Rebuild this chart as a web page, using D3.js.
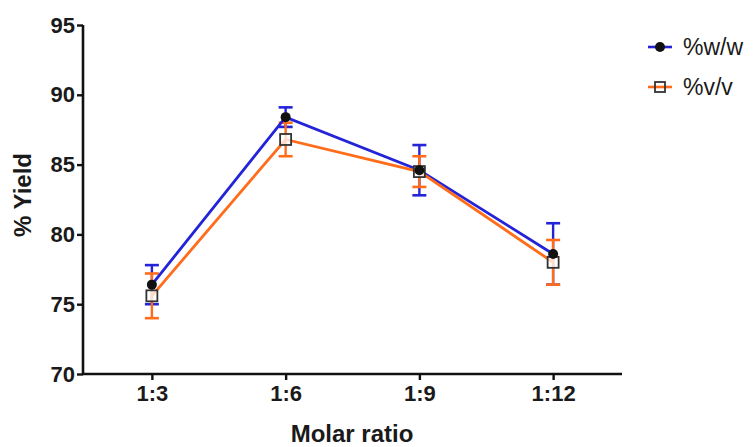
<!DOCTYPE html>
<html><head><meta charset="utf-8">
<script src="https://cdn.jsdelivr.net/npm/d3@7"></script>
<style>body{margin:0;background:#fff}svg{display:block}</style>
</head><body>
<svg id="c" width="756" height="447"></svg>
<script>
const categories = ["1:3","1:6","1:9","1:12"];
const wwMean = [76.4, 88.4, 84.6, 78.6];
const wwErr  = [1.4, 0.7, 1.8, 2.2];
const vvMean = [75.6, 86.8, 84.5, 78.0];
const vvErr  = [1.6, 1.2, 1.1, 1.6];
const yTicks = [70, 75, 80, 85, 90, 95];
const seriesNames = ["%w/w", "%v/v"];

const svg = d3.select("#c");
const x = d3.scalePoint().domain(categories).range([83, 622]).padding(0.515);
const y = d3.scaleLinear().domain([70, 95]).range([374, 25]);
const blue = "#2323d8", orange = "#ff6c1a";
const font = "'Liberation Sans', Arial, sans-serif";

// axes
const yAx = svg.append("g").attr("transform","translate(83,0)")
  .call(d3.axisLeft(y).tickValues(yTicks).tickSize(6).tickPadding(2).tickFormat(d3.format("d")));
const xAx = svg.append("g").attr("transform","translate(0,374)")
  .call(d3.axisBottom(x).tickSize(6).tickPadding(5));
[yAx, xAx].forEach(g => {
  g.select(".domain").attr("stroke","#111").attr("stroke-width",2.6);
  g.selectAll(".tick line").attr("stroke","#111").attr("stroke-width",2.4);
  g.selectAll(".tick text").attr("fill","#1a1a1a").style("font-family",font)
    .style("font-size","22px").style("font-weight","bold");
});
xAx.select(".domain").attr("d","M83,0H622");
yAx.select(".domain").attr("d","M0,25V374");

svg.append("text").attr("x", 352).attr("y", 442).attr("text-anchor","middle")
  .style("font-family",font).style("font-size","24px").style("font-weight","bold")
  .attr("fill","#1a1a1a").text("Molar ratio");
svg.append("text").attr("transform","translate(31,195) rotate(-90)").attr("text-anchor","middle")
  .style("font-family",font).style("font-size","24px").style("font-weight","bold")
  .attr("fill","#1a1a1a").text("% Yield");

const series = [
  {name: seriesNames[0], mean: wwMean, err: wwErr, color: blue},
  {name: seriesNames[1], mean: vvMean, err: vvErr, color: orange}
];
const line = d3.line().x((d,i)=>x(categories[i])).y(d=>y(d));

series.forEach(s => {
  const g = svg.append("g");
  categories.forEach((c,i) => {
    const cx = x(c), top = y(s.mean[i]+s.err[i]), bot = y(s.mean[i]-s.err[i]);
    g.append("line").attr("x1",cx).attr("x2",cx).attr("y1",top).attr("y2",bot)
      .attr("stroke",s.color).attr("stroke-width",2.4);
    [top,bot].forEach(yy => g.append("line").attr("x1",cx-7).attr("x2",cx+7)
      .attr("y1",yy).attr("y2",yy).attr("stroke",s.color).attr("stroke-width",2.6));
  });
});
series.forEach(s => {
  svg.append("path").attr("d", line(s.mean)).attr("fill","none")
    .attr("stroke", s.color).attr("stroke-width", 2.8);
});
// markers
categories.forEach((c,i) => {
  svg.append("rect").attr("x", x(c)-5.5).attr("y", y(vvMean[i])-5.5).attr("width",11).attr("height",11)
    .attr("fill","rgba(255,255,255,0.75)").attr("stroke","#333").attr("stroke-width",1.8);
});
categories.forEach((c,i) => {
  svg.append("circle").attr("cx", x(c)).attr("cy", y(wwMean[i])).attr("r",5).attr("fill","#111");
});

// legend
const lg = svg.append("g");
series.forEach((s,k) => {
  const yy = 47 + k*40;
  lg.append("line").attr("x1",648).attr("x2",672).attr("y1",yy).attr("y2",yy)
    .attr("stroke",s.color).attr("stroke-width",2.6);
  if (k===0) lg.append("circle").attr("cx",660).attr("cy",yy).attr("r",5).attr("fill","#111");
  else lg.append("rect").attr("x",655).attr("y",yy-5).attr("width",10).attr("height",10)
    .attr("fill","none").attr("stroke","#333").attr("stroke-width",1.8);
  lg.append("text").attr("x",683).attr("y",yy+8).style("font-family",font).style("font-size","23px")
    .attr("fill","#1a1a1a").text(s.name);
});
</script>
</body></html>
